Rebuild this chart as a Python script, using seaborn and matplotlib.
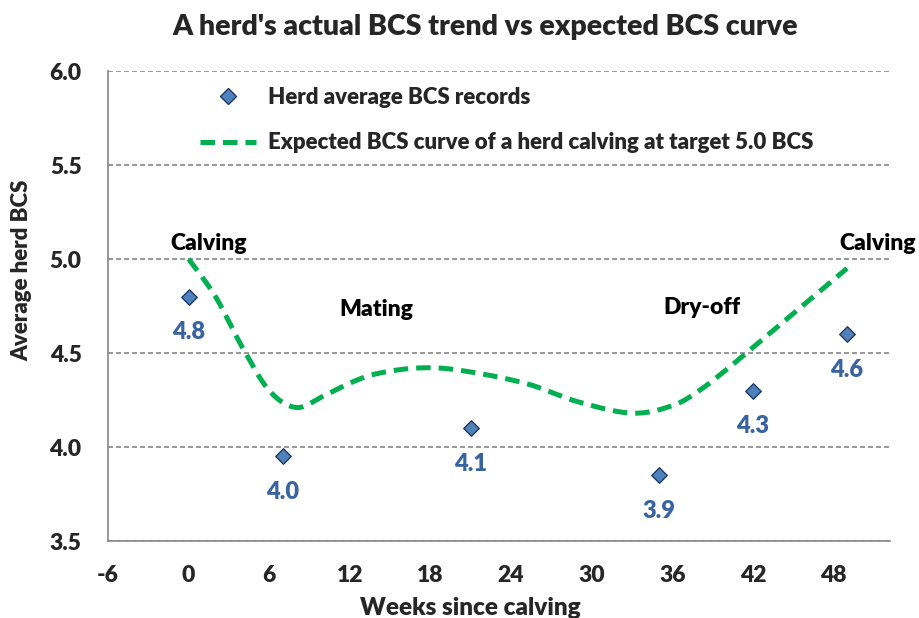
import numpy as np
import pandas as pd
import matplotlib
matplotlib.use("Agg")
import matplotlib.pyplot as plt
import seaborn as sns
from matplotlib.lines import Line2D

# Herd average BCS records
weeks = [0, 7, 21, 35, 42, 49]
herd_bcs = [4.8, 3.95, 4.1, 3.85, 4.3, 4.6]

# Expected BCS curve of a herd calving at target 5.0 BCS
curve_weeks = [0, 2, 4, 6, 8, 10, 12, 14, 17, 20, 25, 29, 33, 36, 38, 40, 42, 45, 49]
curve_bcs = [5.0, 4.80, 4.53, 4.30, 4.21, 4.27, 4.34, 4.39, 4.42, 4.41, 4.34, 4.24,
             4.18, 4.22, 4.30, 4.41, 4.53, 4.71, 4.95]

# Lactation stage annotations
stage_labels = ["Calving", "Mating", "Dry-off", "Calving"]
stage_weeks = [1.5, 14.0, 38.2, 51.3]
stage_bcs = [5.085, 4.73, 4.74, 5.08]

x_ticks = [-6, 0, 6, 12, 18, 24, 30, 36, 42, 48]
y_ticks = [3.5, 4.0, 4.5, 5.0, 5.5, 6.0]

legend_labels = ["Herd average BCS records",
                 "Expected BCS curve of a herd calving at target 5.0 BCS"]

MARKER_FILL = "#4F81BD"
MARKER_EDGE = "#1F3A60"
LABEL_BLUE = "#3A64A0"
CURVE_GREEN = "#00B050"
GRID_GREY = "#858585"
WEIGHT = "heavy"


def smooth_curve(xs, ys, n=40):
    """Catmull-Rom style Bezier smoothing through the given points."""
    pts = np.column_stack([xs, ys]).astype(float)
    out = [pts[0]]
    t = np.linspace(0, 1, n)[1:, None]
    for i in range(len(pts) - 1):
        p0 = pts[max(i - 1, 0)]
        p1 = pts[i]
        p2 = pts[i + 1]
        p3 = pts[min(i + 2, len(pts) - 1)]
        c1 = p1 + (p2 - p0) / 6.0
        c2 = p2 - (p3 - p1) / 6.0
        seg = ((1 - t) ** 3) * p1 + 3 * ((1 - t) ** 2) * t * c1 \
            + 3 * (1 - t) * t ** 2 * c2 + t ** 3 * p2
        out.extend(seg)
    out = np.array(out)
    return out[:, 0], out[:, 1]


sns.set_style("white")
plt.rcParams["font.family"] = ["Lato", "DejaVu Sans"]
plt.rcParams["font.weight"] = WEIGHT

fig = plt.figure(figsize=(9.2, 6.18), dpi=100)
ax = fig.add_axes([108 / 920, 1 - 541 / 618, (890 - 108) / 920, (541 - 71) / 618])

sx, sy = smooth_curve(curve_weeks, curve_bcs)
curve_df = pd.DataFrame({"week": sx, "bcs": sy})
sns.lineplot(data=curve_df, x="week", y="bcs", sort=False, estimator=None, ax=ax,
             color=CURVE_GREEN, linewidth=3.6, linestyle=(0, (2.9, 1.6)),
             legend=False, zorder=3)

herd_df = pd.DataFrame({"week": weeks, "bcs": herd_bcs})
sns.scatterplot(data=herd_df, x="week", y="bcs", ax=ax, marker="D", s=62,
                color=MARKER_FILL, edgecolor=MARKER_EDGE, linewidth=1.0,
                legend=False, zorder=4)

for w, v in zip(weeks, herd_bcs):
    ax.annotate(f"{v:.1f}", (w, v), xytext=(0, -25.5), textcoords="offset points",
                ha="center", va="center", color=LABEL_BLUE, fontsize=17,
                fontweight=WEIGHT)

for lab, w, v in zip(stage_labels, stage_weeks, stage_bcs):
    ax.text(w, v, lab, ha="center", va="center", fontsize=16.5, fontweight=WEIGHT,
            color="black", clip_on=False)

ax.set_xlim(-6, 52.2)
ax.set_ylim(3.5, 6.0)
ax.set_xticks(x_ticks)
ax.set_yticks(y_ticks)
ax.set_xticklabels([str(t) for t in x_ticks])
ax.set_yticklabels([f"{t:.1f}" for t in y_ticks])
ax.tick_params(axis="both", labelsize=16.5, length=6, width=1.2, color="#868686",
               direction="out")
ax.tick_params(axis="x", pad=11)
ax.tick_params(axis="y", pad=13)
for lbl in ax.get_xticklabels() + ax.get_yticklabels():
    lbl.set_fontweight(WEIGHT)
ax.set_xlabel("")
ax.set_ylabel("")

ax.yaxis.grid(True, linestyle=(0, (3, 1.8)), color=GRID_GREY, linewidth=1.2)
ax.xaxis.grid(False)
ax.set_axisbelow(True)
for side in ["top", "right"]:
    ax.spines[side].set_visible(False)
for side in ["left", "bottom"]:
    ax.spines[side].set_color("#868686")
    ax.spines[side].set_linewidth(1.2)

handles = [
    Line2D([], [], marker="D", linestyle="none", markersize=8,
           markerfacecolor=MARKER_FILL, markeredgecolor=MARKER_EDGE,
           markeredgewidth=1.0),
    Line2D([], [], color=CURVE_GREEN, linewidth=3.6, linestyle=(0, (2.9, 1.6))),
]
ax.legend(handles, legend_labels, loc="upper left",
          bbox_to_anchor=(200 / 920, 1 - 87 / 618), bbox_transform=fig.transFigure,
          frameon=False, handlelength=2.5, handletextpad=0.55,
          labelspacing=1.1, borderpad=0, borderaxespad=0,
          prop={"weight": WEIGHT, "size": 16})

fig.text(485 / 920, 1 - 27 / 618, "A herd's actual BCS trend vs expected BCS curve",
         ha="center", va="center", fontsize=20.5, fontweight=WEIGHT)
fig.text(22 / 920, 1 - 270 / 618, "Average herd BCS", rotation=90,
         ha="center", va="center", fontsize=16, fontweight=WEIGHT)
fig.text(470 / 920, 1 - 608 / 618, "Weeks since calving",
         ha="center", va="center", fontsize=17.5, fontweight=WEIGHT)

fig.savefig("out.png", dpi=100)
